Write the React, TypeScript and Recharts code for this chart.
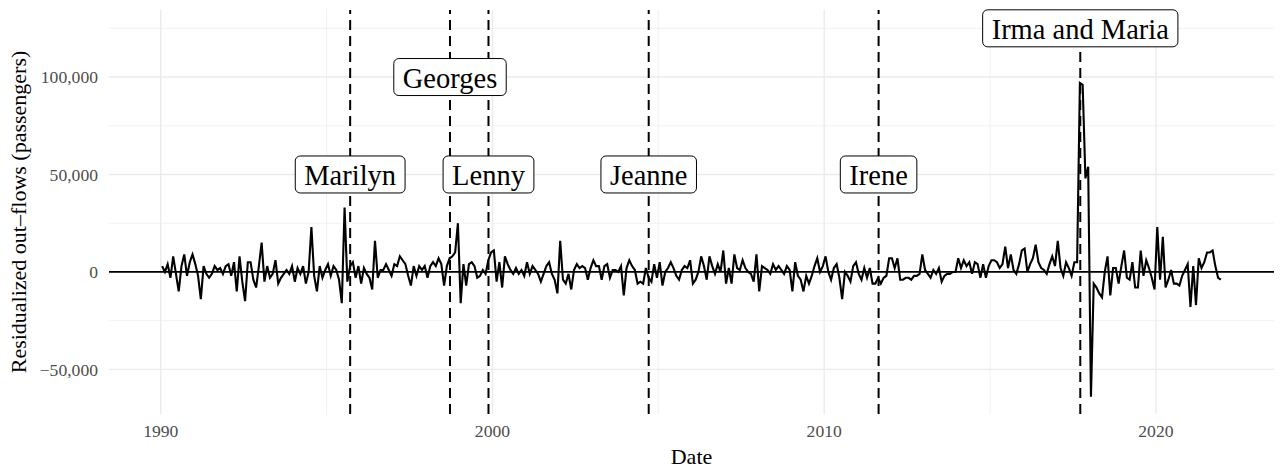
import {
  LineChart,
  Line,
  XAxis,
  YAxis,
  CartesianGrid,
  ReferenceLine,
  ReferenceDot,
  Label,
} from "recharts";

// residualized monthly out-flows, thousands of passengers, Jan..Dec per year
const flows1990s = [
  3, 0, 4, -3, 8, -1, -10, 3, 9, -2, 5, 9,
  4, -2, -14, 3, -1, -3, -1, 3, 1, 2, -1, 3,
  4, -2, 5, -10, 8, -5, -15, 5, 5, -4, -8, 3,
  15, -5, 3, -3, -1, 6, -6, -3, -1, 1, -1, 3,
  -5, 2, -1, 3, -6, 0, 23, -2, -10, 3, -3, 1,
  4, -2, 3, 1, -4, -16, 33, -5, 3, 5, -3, 3,
  -6, 2, -1, -3, -9, 16, -3, 1, 1, 4, 1, -2,
  4, 3, 8, 6, 4, -2, -7, 3, -2, 3, 1, 3,
  -3, 3, 5, 3, 7, 4, -7, 3, 7, 8, 10, 25,
  -16, 4, -7, 4, 5, 3, -3, -2, 1, -1, 6, 10,
];
const flows2000s = [
  11, -5, 5, -8, 8, 4, 1, -1, 2, -1, 1, -2,
  5, -1, 3, 1, -1, -5, -1, 3, 5, -1, -4, -11,
  16, -4, -6, -1, -9, 1, 4, 2, 3, 2, -4, 2,
  6, 3, 3, -4, 3, 4, -3, 1, 1, 0, 3, -12,
  2, 6, 3, 1, -6, -5, -6, 2, -3, -5, 4, -3,
  5, -7, 0, 2, 5, 2, -2, -4, 1, 3, 2, 6,
  -6, -4, 0, 8, 3, -4, 8, 3, -1, 4, 0, 11,
  -6, 2, -6, 9, 2, 1, 6, 2, 0, -1, -5, 9,
  -10, 3, 2, 1, -1, 4, 1, 3, 1, -1, 3, 1,
  -10, 5, -2, -4, -10, -2, -6, -2, 3, 7, 0, 3,
];
const flows2010s = [
  8, 0, -4, 2, 4, -3, -14, 0, -2, -5, 3, 5,
  -1, -4, 2, -3, 2, -6, -6, -3, -6, -3, -2, 7,
  7, 2, 7, -4, -4, -3, -3, -4, -2, -2, -1, 9,
  1, -1, -3, 1, -1, 2, -5, -2, -1, -1, 0, 0,
  7, 2, 6, 3, 5, -1, 5, 4, -3, 4, -3, 3,
  6, 6, 5, 2, 4, 13, 2, 9, 1, -1, 4, 11,
  12, 0, 4, 7, 14, 5, 2, 1, -1, 4, 8, 3,
  16, 2, -2, 5, 2, -2, 5, 5, 97, 96, 48, 54,
  -64, -6, -8, -11, -13, 0, 8, -12, 2, 2, -6, 3,
  11, -3, -4, 5, -8, -8, 11, -2, 6, 2, -3, -9,
];
const flows2020s = [
  23, -4, 18, -8, -4, 1, -6, -6, -7, -2, 1, 4,
  -18, 3, -17, 7, 2, 5, 10, 10, 11, 3, -3, -4,
];

const stormNames = ["Marilyn", "Georges", "Lenny", "Jeanne", "Irene", "Irma and Maria"];
const stormDates = [1995.71, 1998.72, 1999.88, 2004.71, 2011.64, 2017.72];
const labelLevels = [50, 100, 50, 50, 50, 125];

const xTicks = [1990, 2000, 2010, 2020];
const xMinor = [1995, 2005, 2015];
const yTicks = [-50, 0, 50, 100];
const yMinor = [-25, 25, 75, 125];

const data = [...flows1990s, ...flows2000s, ...flows2010s, ...flows2020s].map(
  (v, i) => ({ t: 1990 + (i + 0.5) / 12, v })
);

const SERIF = "'Liberation Serif', 'Times New Roman', serif";
const LABEL_FONT = 28.5;

let ctx: CanvasRenderingContext2D | null = null;
function textWidth(s: string) {
  if (!ctx) ctx = document.createElement("canvas").getContext("2d");
  if (!ctx) return s.length * LABEL_FONT * 0.45;
  ctx.font = `${LABEL_FONT}px ${SERIF}`;
  return ctx.measureText(s).width;
}

function fmt(v: number) {
  const n = Math.round(v * 1000);
  const s = Math.abs(n).toLocaleString("en-US");
  return n < 0 ? "\u2212" + s : s;
}

function StormLabel(props: any) {
  const { cx, cy, text } = props;
  if (cx == null || cy == null) return null;
  const w = textWidth(text) + 18;
  const h = 37;
  return (
    <g>
      <rect
        x={cx - w / 2}
        y={cy - h / 2}
        width={w}
        height={h}
        rx={5}
        ry={5}
        fill="#fff"
        stroke="#000"
        strokeWidth={1}
      />
      <text
        x={cx}
        y={cy + 1}
        textAnchor="middle"
        dominantBaseline="central"
        fontFamily={SERIF}
        fontSize={LABEL_FONT}
        fill="#000"
      >
        {text}
      </text>
    </g>
  );
}

export default function App() {
  return (
    <div style={{ width: 1283, height: 472, background: "#fff" }}>
      <style>{`body{margin:0}`}</style>
      <LineChart
        width={1283}
        height={472}
        data={data}
        margin={{ top: 10, right: 9, bottom: 0, left: 0 }}
      >
        <CartesianGrid
          stroke="#ebebeb"
          strokeWidth={0.7}
          horizontalValues={yMinor}
          verticalValues={xMinor}
        />
        <CartesianGrid
          stroke="#ebebeb"
          strokeWidth={1.4}
          horizontalValues={yTicks}
          verticalValues={xTicks}
        />
        <XAxis
          dataKey="t"
          type="number"
          domain={[1988.44, 2023.56]}
          ticks={xTicks}
          allowDataOverflow
          tickLine={false}
          axisLine={false}
          height={58}
          tickMargin={5}
          tick={{ fill: "#4d4d4d", fontSize: 17.6, fontFamily: SERIF }}
        >
          <Label
            content={({ viewBox }: any) => (
              <text
                x={viewBox.x + viewBox.width / 2}
                y={464}
                textAnchor="middle"
                fontFamily={SERIF}
                fontSize={22}
                fill="#000"
              >
                Date
              </text>
            )}
          />
        </XAxis>
        <YAxis
          type="number"
          domain={[-72.9, 134.4]}
          ticks={yTicks}
          allowDataOverflow
          tickLine={false}
          axisLine={false}
          width={109}
          tickMargin={5}
          tickFormatter={fmt}
          tick={{ fill: "#4d4d4d", fontSize: 17.6, fontFamily: SERIF }}
        >
          <Label
            content={({ viewBox }: any) => {
              const cy = viewBox.y + viewBox.height / 2;
              return (
                <text
                  x={26}
                  y={cy}
                  transform={`rotate(-90 26 ${cy})`}
                  textAnchor="middle"
                  fontFamily={SERIF}
                  fontSize={22}
                  fill="#000"
                >
                  Residualized out–flows (passengers)
                </text>
              );
            }}
          />
        </YAxis>
        {stormDates.map((d) => (
          <ReferenceLine
            key={"v" + d}
            x={d}
            stroke="#000"
            strokeWidth={2}
            strokeDasharray="10 6"
          />
        ))}
        <ReferenceLine y={0} stroke="#000" strokeWidth={1.8} />
        <Line
          type="linear"
          dataKey="v"
          stroke="#000"
          strokeWidth={2.1}
          dot={false}
          isAnimationActive={false}
        />
        {stormNames.map((name, i) => (
          <ReferenceDot
            key={name}
            x={stormDates[i]}
            y={labelLevels[i]}
            r={0}
            shape={(p: any) => <StormLabel {...p} text={name} />}
          />
        ))}
      </LineChart>
    </div>
  );
}
